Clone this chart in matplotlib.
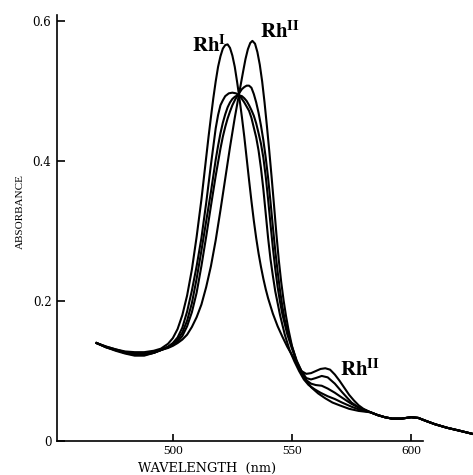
import numpy as np
import matplotlib
matplotlib.use("Agg")
import matplotlib.pyplot as plt

plt.rcParams['mathtext.fontset'] = 'stix'

# ---- data (wavelength nm, absorbance) ----
tail_wl = [583, 586, 589, 592, 596, 600, 603, 606, 610, 615, 620, 626]
tail_abs = [0.041, 0.037, 0.034, 0.032, 0.032, 0.034, 0.033, 0.029, 0.024, 0.019, 0.015, 0.010]

rh1_wl = [468, 472, 476, 480, 484, 488, 492, 495, 498, 500, 502, 504, 506, 508, 510, 512, 514, 515,
          516, 517, 518, 519, 520, 521, 522, 523, 524, 525, 526, 527, 528, 529, 530, 531, 532, 533,
          534, 535, 536, 537, 538, 539, 540, 542, 544, 546, 548, 550, 552, 554, 556, 558, 561, 564,
          567, 570, 574, 578]
rh1_abs = [0.140, 0.135, 0.131, 0.128, 0.127, 0.127, 0.129, 0.132, 0.139, 0.147, 0.160, 0.180,
           0.208, 0.245, 0.292, 0.345, 0.405, 0.435, 0.463, 0.490, 0.514, 0.535, 0.550, 0.561,
           0.566, 0.567, 0.562, 0.551, 0.535, 0.513, 0.489, 0.463, 0.435, 0.404, 0.373, 0.343,
           0.315, 0.290, 0.268, 0.249, 0.232, 0.217, 0.204, 0.182, 0.164, 0.149, 0.135, 0.123,
           0.111, 0.099, 0.087, 0.077, 0.068, 0.061, 0.055, 0.051, 0.046, 0.043]

c2_wl = [468, 472, 476, 480, 484, 488, 492, 495, 498, 500, 502, 504, 506, 508, 510, 512, 514, 516,
         518, 519, 520, 521, 522, 523.5, 525, 526.5, 528, 530, 532, 533, 534, 535, 536, 537, 538,
         539, 540, 541, 542, 543, 545, 547, 549, 551, 553, 555, 557, 559.5, 562, 565, 568, 571,
         575, 579]
c2_abs = [0.140, 0.135, 0.131, 0.127, 0.125, 0.125, 0.127, 0.130, 0.135, 0.140, 0.148, 0.162,
          0.185, 0.215, 0.250, 0.290, 0.340, 0.395, 0.447, 0.466, 0.480, 0.487, 0.493, 0.497,
          0.498, 0.497, 0.494, 0.484, 0.472, 0.462, 0.448, 0.434, 0.415, 0.390, 0.360, 0.325,
          0.290, 0.260, 0.236, 0.214, 0.180, 0.152, 0.130, 0.114, 0.100, 0.088, 0.080, 0.074,
          0.069, 0.064, 0.060, 0.055, 0.049, 0.044]

c3_wl = [468, 472, 476, 480, 484, 488, 492, 495, 498, 500, 502, 504, 506, 508, 510, 512, 514, 516,
         518, 519, 520, 521, 522, 523, 524, 525, 526, 527, 528, 529, 530, 531, 532, 533, 534, 535,
         536, 537, 538, 539, 540, 541, 542, 543, 544, 545, 546, 548, 550, 552, 554, 556, 558, 560,
         562.5, 565, 568, 571, 575, 579]
c3_abs = [0.140, 0.134, 0.130, 0.126, 0.124, 0.124, 0.126, 0.130, 0.134, 0.138, 0.145, 0.155,
          0.172, 0.197, 0.232, 0.272, 0.314, 0.356, 0.402, 0.422, 0.440, 0.455, 0.467, 0.477,
          0.484, 0.489, 0.492, 0.494, 0.494, 0.493, 0.490, 0.486, 0.480, 0.473, 0.465, 0.454,
          0.440, 0.425, 0.405, 0.378, 0.345, 0.310, 0.276, 0.246, 0.220, 0.199, 0.181, 0.153,
          0.132, 0.113, 0.098, 0.087, 0.082, 0.080, 0.079, 0.075, 0.069, 0.062, 0.053, 0.046]

c4_wl = [468, 472, 476, 480, 484, 488, 492, 495, 498, 500, 502, 504, 506, 508, 510, 512, 514,
         516, 518, 520, 521, 522, 523, 524, 525, 526, 527, 528, 529, 530, 531, 532, 533, 534, 535,
         536, 537, 538, 539, 540, 541, 542, 543, 544, 545, 546, 547, 548.5, 550, 552, 554, 556,
         558, 560, 562.5, 565, 568, 571, 575, 578]
c4_abs = [0.140, 0.134, 0.130, 0.126, 0.123, 0.123, 0.126, 0.130, 0.134, 0.137, 0.142, 0.150,
          0.164, 0.184, 0.212, 0.250, 0.292, 0.336, 0.379, 0.418, 0.435, 0.449, 0.461, 0.471,
          0.480, 0.487, 0.493, 0.498, 0.503, 0.506, 0.508, 0.508, 0.505, 0.496, 0.484, 0.469,
          0.451, 0.430, 0.405, 0.376, 0.342, 0.306, 0.272, 0.242, 0.215, 0.192, 0.173, 0.152,
          0.135, 0.115, 0.100, 0.090, 0.088, 0.090, 0.093, 0.091, 0.082, 0.070, 0.055, 0.048]

rh2_wl = [468, 472, 476, 480, 484, 488, 492, 495, 498, 500, 502, 504, 506, 508, 510, 512, 514, 516,
          518, 520, 522, 524, 526, 528, 529.5, 530.5, 531.5, 532.5, 533.4, 534.5, 535.5, 536.5,
          537.5, 538.5, 539.5, 540.5, 541.5, 542.5, 543.5, 544.5, 545.5, 546.5, 547.5, 548.5, 550,
          552, 554, 556, 558, 560, 562, 564, 566, 568, 570, 572, 574, 576, 578, 580]
rh2_abs = [0.140, 0.134, 0.129, 0.125, 0.122, 0.122, 0.126, 0.130, 0.133, 0.136, 0.140, 0.145,
           0.152, 0.163, 0.177, 0.195, 0.220, 0.250, 0.287, 0.330, 0.375, 0.420, 0.462, 0.500,
           0.528, 0.546, 0.560, 0.569, 0.572, 0.568, 0.556, 0.538, 0.514, 0.484, 0.450, 0.414,
           0.376, 0.336, 0.295, 0.258, 0.227, 0.201, 0.179, 0.160, 0.136, 0.113, 0.100, 0.096,
           0.097, 0.100, 0.103, 0.104, 0.102, 0.095, 0.086, 0.076, 0.066, 0.058, 0.051, 0.046]

series = [(rh1_wl, rh1_abs), (c2_wl, c2_abs), (c3_wl, c3_abs), (c4_wl, c4_abs), (rh2_wl, rh2_abs)]

x_ticks = [500, 550, 600]
x_tick_labels = ["500", "550", "600"]
y_ticks = [0, 0.2, 0.4, 0.6]
y_tick_labels = ["0", "0.2", "0.4", "0.6"]

# ---- figure ----
fig = plt.figure(figsize=(4.73, 4.75), dpi=100)
ax = fig.add_axes([57 / 473, 1 - 441 / 475, (423 - 57) / 473, 426 / 475])
ax.set_xlim(451.4, 605)
ax.set_ylim(0, 0.609)

for wl, ab in series:
    ax.plot(list(wl) + tail_wl, list(ab) + tail_abs, color='black', lw=1.5,
            solid_joinstyle='round', clip_on=False)

for s in ['top', 'right']:
    ax.spines[s].set_visible(False)
for s in ['left', 'bottom']:
    ax.spines[s].set_linewidth(1.2)

ax.set_xticks(x_ticks)
ax.set_xticklabels(x_tick_labels, family='Liberation Serif', fontsize=9.5)
ax.set_yticks(y_ticks)
ax.set_yticklabels(y_tick_labels, family='DejaVu Serif', fontsize=8.5)
ax.tick_params(axis='x', direction='in', length=5, width=1.2, pad=3)
ax.tick_params(axis='y', direction='in', length=6, width=1.2, pad=4)

fig.text(138 / 473, 1 - 468 / 475, "WAVELENGTH  (nm)", family='DejaVu Serif', fontsize=9.3,
         ha='left', va='center')
fig.text(20 / 473, 1 - 212 / 475, "ABSORBANCE", family='Liberation Serif', fontsize=8,
         rotation=90, ha='center', va='center')

ax.text(508.0, 0.557, r'$\mathbf{Rh}^{\mathbf{I}}$', fontsize=15, ha='left', va='baseline')
ax.text(536.5, 0.576, r'$\mathbf{Rh}^{\mathbf{II}}$', fontsize=15, ha='left', va='baseline')
ax.text(570.0, 0.093, r'$\mathbf{Rh}^{\mathbf{II}}$', fontsize=15, ha='left', va='baseline')

fig.savefig("out.png", dpi=100)
